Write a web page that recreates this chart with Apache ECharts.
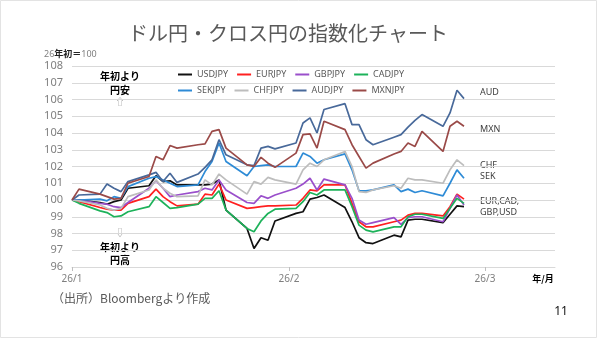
<!DOCTYPE html>
<html><head><meta charset="utf-8">
<script src="https://cdn.jsdelivr.net/npm/echarts@6/dist/echarts.min.js"></script>
<style>html,body{margin:0;padding:0;background:#fff}#c{width:600px;height:338px}</style>
</head><body><div id="c"></div>
<script>
const dates = ['2026-01-01','2026-01-02','2026-01-05','2026-01-06','2026-01-07','2026-01-08','2026-01-09',
 '2026-01-12','2026-01-13','2026-01-14','2026-01-15','2026-01-16',
 '2026-01-19','2026-01-20','2026-01-21','2026-01-22','2026-01-23',
 '2026-01-26','2026-01-27','2026-01-28','2026-01-29','2026-01-30',
 '2026-02-02','2026-02-03','2026-02-04','2026-02-05','2026-02-06',
 '2026-02-09','2026-02-10','2026-02-11','2026-02-12','2026-02-13',
 '2026-02-16','2026-02-17','2026-02-18','2026-02-19','2026-02-20',
 '2026-02-23','2026-02-24','2026-02-25','2026-02-26'];
const USDJPY = [100,100,99.85,99.75,99.9,100,100.7, 100.85,101.45,101.1,101.15,100.9, 100.9,100.9,100.95,101.2,99.4, 98.3,97.1,97.75,97.6,98.75, 99.2,99.3,100.05,100.15,100.3, 99.55,98.7,97.75,97.45,97.4, 97.9,97.8,98.8,98.85,98.85, 98.65,99.15,99.65,99.6];
const EURJPY = [100,99.9,99.55,99.45,99.4,99.4,99.8, 100.2,100.65,100.2,99.9,99.65, 99.75,100.35,100.3,100.95,100.0, 99.5,99.55,99.6,99.65,99.65, 99.7,100.1,100.6,100.55,100.9, 100.9,99.8,98.7,98.4,98.4, 98.7,98.8,99.1,99.2,99.2, 99.05,99.6,100.35,100.05];
const GBPJPY = [100,100,99.8,99.75,99.6,99.55,99.85, 100.7,101.15,100.7,100.2,100.3, 100.5,100.7,100.6,101.2,100.6, 99.85,99.8,100.25,100.1,100.3, 100.7,100.95,101.3,100.6,101.25, 100.9,100.1,98.8,98.55,98.65, 98.95,98.55,98.95,99.0,99.0, 98.7,99.5,100.3,99.7];
const CADJPY = [100,99.8,99.35,99.25,99.0,99.05,99.3, 99.6,100.2,99.85,99.5,99.55, 99.75,100.1,100.1,100.55,99.4, 98.3,98.1,98.75,99.2,99.45, 99.5,99.9,100.45,100.3,100.6, 100.6,99.6,98.5,98.2,98.1, 98.4,98.4,99.0,99.15,99.15, 98.9,99.5,100.1,99.8];
const SEKJPY = [100,100,100.05,99.95,100.2,100.1,100.8, 101.3,101.4,101.2,101.0,100.8, 100.9,101.7,102.3,103.4,102.3, 101.45,102.0,102.05,102.1,102.0, 102.0,102.8,102.6,102.2,102.4, 102.75,101.8,100.55,100.55,100.6, 100.9,100.5,100.65,100.45,100.55, 100.25,101.0,101.8,101.3];
const CHFJPY = [100,99.95,99.7,99.5,99.4,99.5,100.2, 100.6,101.2,100.7,100.4,100.2, 100.25,101.2,100.9,101.55,101.2, 100.35,101.1,100.95,101.35,101.2, 100.95,101.8,102.2,102.0,102.4, 102.9,102.0,100.5,100.45,100.6, 100.85,100.7,101.3,101.2,101.2, 101.0,101.8,102.4,102.05];
const AUDJPY = [100,100.3,100.35,100.95,100.7,100.5,101.1, 101.5,101.65,101.1,101.6,101.05, 101.55,101.95,102.4,103.6,102.7, 102.1,102.05,103.1,103.2,103.05, 103.4,104.6,104.9,104.0,105.4, 105.75,104.5,104.5,103.6,103.3, 103.75,103.9,104.35,104.75,105.1, 104.4,105.2,106.55,106.05];
const MXNJPY = [100,100.65,100.35,100.2,100.05,100.1,101.0, 101.4,102.6,102.4,103.25,103.1, 103.3,103.35,104.1,104.2,103.1, 102.1,102.0,102.55,102.2,101.95, 102.8,103.9,103.95,103.1,104.7, 104.2,103.3,102.6,101.9,102.2, 102.75,102.9,103.4,103.2,104.1, 102.9,104.4,104.7,104.4];

const seriesNames = ['USDJPY','EURJPY','GBPJPY','CADJPY','SEKJPY','CHFJPY','AUDJPY','MXNJPY'];
const seriesValues = [USDJPY,EURJPY,GBPJPY,CADJPY,SEKJPY,CHFJPY,AUDJPY,MXNJPY];
const seriesColors = ['#111111','#FF2020','#9A4FCB','#1DB25A','#2E8BD6','#BDBDBD','#48699A','#9A4A48'];
const xTickDates = ['2026-01-01','2026-02-01','2026-03-01'];
const xTickLabels = ['26/1','26/2','26/3'];
const xAxisEnd = '2026-03-11';
const rightLabels = ['AUD','MXN','CHF','SEK','EUR,CAD,','GBP,USD'];

const base = Date.UTC(2026,0,1);
function dayOf(s){const p=s.split('-').map(Number);return (Date.UTC(p[0],p[1]-1,p[2])-base)/86400000;}
const xTickDays = xTickDates.map(dayOf);

const JP = '"Noto Sans CJK JP", "Noto Sans", sans-serif';
const NUM = '"Noto Sans", "Liberation Sans", sans-serif';

const chart = echarts.init(document.getElementById('c'));
const series = seriesNames.map((n,i)=>({
  name:n, type:'line', symbol:'none', showSymbol:false,
  data: dates.map((d,k)=>[dayOf(d), seriesValues[i][k]]),
  lineStyle:{width:1.7,color:seriesColors[i]}, itemStyle:{color:seriesColors[i]},
  emphasis:{disabled:true}, animation:false
}));
const legendCommon = {icon:'rect', itemWidth:14, itemHeight:2, itemGap:9, textStyle:{fontSize:9,color:'#595959',fontFamily:NUM}, padding:0};
const T = (x,y,text,opt)=>({type:'text', style:Object.assign({x:x,y:y,text:text,fontFamily:JP,fontSize:10,fill:'#000',align:'center',verticalAlign:'middle'},opt||{})});
chart.setOption({
  animation:false,
  title:{text:'ドル円・クロス円の指数化チャート', left:123, top:18, textStyle:{fontFamily:JP,fontSize:20,fontWeight:'normal',color:'#595959'}},
  legend:[
    Object.assign({data:seriesNames.slice(0,4), left:178, top:70}, legendCommon),
    Object.assign({data:seriesNames.slice(4,8), left:178, top:86}, legendCommon)
  ],
  grid:{left:72,right:45,top:66,bottom:71},
  xAxis:{type:'value', min:0, max:dayOf(xAxisEnd),
    axisLine:{lineStyle:{color:'#D9D9D9'}},
    axisTick:{show:true, customValues:xTickDays, length:4, lineStyle:{color:'#BFBFBF'}},
    axisLabel:{customValues:xTickDays, fontSize:10, color:'#7F7F7F', fontFamily:NUM, margin:7,
      formatter:(v)=>{const i=xTickDays.indexOf(v);return i>=0?xTickLabels[i]:'';}},
    splitLine:{show:false}},
  yAxis:{type:'value', min:96, max:108, interval:1,
    axisLine:{show:false}, axisTick:{show:false},
    axisLabel:{fontSize:11, color:'#7F7F7F', fontFamily:NUM, margin:9},
    splitLine:{lineStyle:{color:'#D9D9D9',width:1}}},
  series: series,
  graphic:[
    {type:'rect', shape:{x:0.5,y:0.5,width:596,height:337}, style:{fill:'none',stroke:'#E3E3E3',lineWidth:1}, silent:true},
    {type:'text', style:{x:44,y:54,text:'{a|26}{b|年初＝}{a|100}',verticalAlign:'middle',
      rich:{a:{fontSize:9,fill:'#7F7F7F',fontFamily:NUM}, b:{fontSize:9,fontWeight:'bold',fill:'#222',fontFamily:JP}}}},
    T(120,76,'年初より',{fontWeight:'bold'}),
    T(120,90,'円安',{fontWeight:'bold'}),
    T(120,102,'⇧',{fill:'#9A9A9A',fontSize:9}),
    T(120,233,'⇩',{fill:'#9A9A9A',fontSize:9}),
    T(120,247,'年初より',{fontWeight:'bold'}),
    T(120,260,'円高',{fontWeight:'bold'}),
    T(480,92,rightLabels[0],{align:'left',fontFamily:NUM,fontSize:9,fill:'#404040'}),
    T(480,129,rightLabels[1],{align:'left',fontFamily:NUM,fontSize:9,fill:'#404040'}),
    T(480,165,rightLabels[2],{align:'left',fontFamily:NUM,fontSize:9,fill:'#404040'}),
    T(480,176.5,rightLabels[3],{align:'left',fontFamily:NUM,fontSize:9,fill:'#404040'}),
    T(480,201.5,rightLabels[4],{align:'left',fontFamily:NUM,fontSize:9,fill:'#404040'}),
    T(480,212.5,rightLabels[5],{align:'left',fontFamily:NUM,fontSize:9,fill:'#404040'}),
    T(543,279,'年/月',{fontWeight:'bold',fontSize:9}),
    T(52,298,'（出所）Bloombergより作成',{align:'left',fontSize:12,fill:'#595959'}),
    T(561,312,'11',{fontFamily:NUM,fontSize:12,fill:'#111'})
  ]
});
</script></body></html>
